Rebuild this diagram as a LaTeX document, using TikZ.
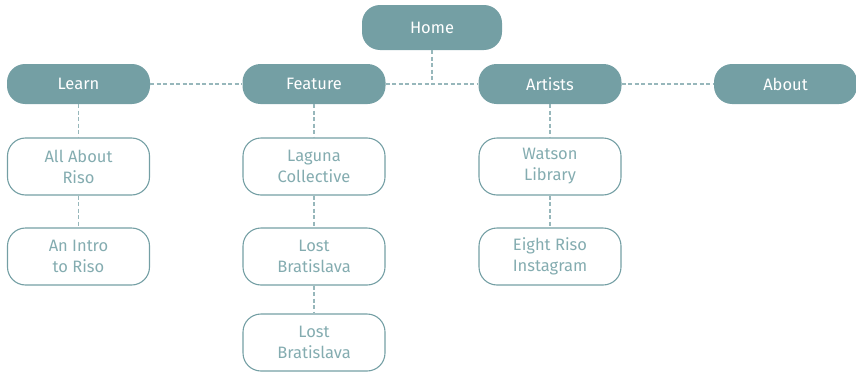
\documentclass[tikz,border=0pt]{standalone}
\usepackage{fontspec}
\setmainfont{Fira Sans}
\usepackage{xcolor}
\definecolor{riso}{HTML}{749FA4}
\definecolor{risotext}{HTML}{84ACB0}
\usetikzlibrary{calc}

\begin{document}
\begin{tikzpicture}[x=1pt, y=-1pt, top/.style={fill=riso, text=white, rounded corners=18pt, minimum width=143pt, minimum height=40pt, inner sep=0pt, font=\fontsize{16.5}{21}\selectfont}, sub/.style={draw=riso, line width=1.1pt, text=risotext, rounded corners=18pt, minimum width=142pt, minimum height=57pt, inner sep=0pt, align=center, font=\fontsize{16.5}{21}\selectfont}, lnk/.style={draw=riso!75, line width=1.1pt, dash pattern=on 4pt off 2.5pt}]
\useasboundingbox (0,0) rectangle (856,372);
\node[top, minimum width=140pt, minimum height=45pt] (home) at (432,27.5){Home};
\foreach \n/\x/\l in {learn/78.5/Learn, feature/314/Feature, artists/550/Artists, about/785.5/About}{\node[top] (\n) at (\x,84){\l};}
\foreach \n/\x/\y/\l in {riso/78.5/166.5/{All About\\Riso}, intro/78.5/256.5/{An Intro\\to Riso}, laguna/314/166.5/{Laguna\\Collective}, lost/314/256.5/{Lost\\Bratislava}, losttwo/314/342.5/{Lost\\Bratislava}, watson/550/166.5/{Watson\\Library}, eight/550/256.5/{Eight Riso\\Instagram}}{\node[sub] (\n) at (\x,\y){\l};}
\coordinate (joint) at (home |- feature);
\draw[lnk] (home) -- (joint);
\foreach \i/\j in {learn/feature, feature/artists, artists/about, learn/riso, riso/intro, feature/laguna, laguna/lost, lost/losttwo, artists/watson, watson/eight}{\draw[lnk] (\i) -- (\j);}
\end{tikzpicture}
\end{document}
